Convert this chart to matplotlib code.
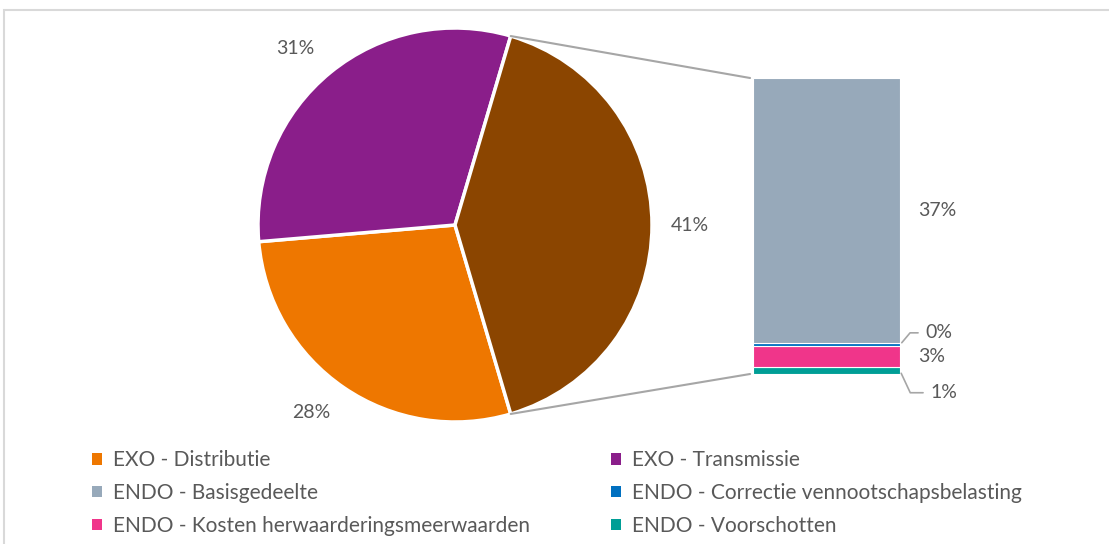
import matplotlib
matplotlib.use("Agg")
import matplotlib.pyplot as plt
from matplotlib.patches import ConnectionPatch, Rectangle, Patch
import numpy as np

plt.rcParams['font.family'] = ['Lato', 'DejaVu Sans']

# pie part (EXO) and the ENDO breakdown shown in the bar
pie_labels = ['EXO - Distributie', 'EXO - Transmissie']
pie_values = [28.2, 30.9]
pie_colors = ['#EE7700', '#8A1E8A']
other_color = '#8B4500'

bar_labels = ['ENDO - Basisgedeelte', 'ENDO - Correctie vennootschapsbelasting',
              'ENDO - Kosten herwaarderingsmeerwaarden', 'ENDO - Voorschotten']
bar_values = [36.6, 0.45, 2.9, 0.9]
bar_colors = ['#97A9BA', '#0070C0', '#F0358A', '#009E96']

text_color = '#595959'
W, H = 1109, 544

fig = plt.figure(figsize=(W / 100, H / 100), dpi=100)

# outer chart border (only top and left visible)
fig.patches.append(Rectangle((3.5 / W, -0.1), 1.2, (H - 9.5) / H + 0.1,
                             transform=fig.transFigure, fill=False,
                             edgecolor='#D9D9D9', linewidth=1.5))

# ---- pie ----
cx, cy, r = 455, 225, 197
ax_pie = fig.add_axes([(cx - r) / W, (H - cy - r) / H, 2 * r / W, 2 * r / H])
other = sum(bar_values)
values = pie_values + [other]
total = sum(values)
start = -other / total * 360 / 2
wedges, texts, autotexts = ax_pie.pie(
    values, colors=pie_colors + [other_color], startangle=start, counterclock=False,
    autopct=lambda p: f'{p:.0f}%', pctdistance=1.2,
    wedgeprops=dict(edgecolor='white', linewidth=2.5),
    textprops=dict(color=text_color, fontsize=14))
# nudge labels like Excel's best-fit placement
for wdg, t, shift, dist in zip(wedges, autotexts, [-3, 3, 0], [1.2, 1.21, 1.19]):
    a = np.radians((wdg.theta1 + wdg.theta2) / 2 + shift)
    t.set_position((dist * np.cos(a), dist * np.sin(a)))
ax_pie.set_xlim(-1, 1)
ax_pie.set_ylim(-1, 1)
ax_pie.set_aspect('equal')
ax_pie.axis('off')

# ---- bar ----
bx0, bx1, by0, by1 = 753, 900, 78, 374
ax_bar = fig.add_axes([bx0 / W, (H - by1) / H, (bx1 - bx0) / W, (by1 - by0) / H])
bottom = 0
mids = []
for val, col in zip(bar_values[::-1], bar_colors[::-1]):
    ax_bar.bar(0.5, val, width=1, bottom=bottom, color=col,
               edgecolor='white', linewidth=0.8)
    mids.append(bottom + val / 2)
    bottom += val
mids = mids[::-1]
ax_bar.set_xlim(0, 1)
ax_bar.set_ylim(0, other)
ax_bar.axis('off')

# labels on the bar
ax_bar.text(1.12, mids[0], f'{bar_values[0]:.0f}%', ha='left', va='center',
            color=text_color, fontsize=14)
ax_bar.text(1.12, mids[2], f'{bar_values[2]:.0f}%', ha='left', va='center',
            color=text_color, fontsize=14)
ax_bar.annotate(f'{bar_values[1]:.0f}%', xy=(1.0, mids[1]), xytext=(25, 12),
                textcoords='offset pixels', ha='left', va='center',
                color=text_color, fontsize=14,
                arrowprops=dict(arrowstyle='-', color='#A6A6A6', lw=1.2,
                                shrinkA=3, shrinkB=2,
                                connectionstyle='angle,angleA=0,angleB=50,rad=0'))
ax_bar.annotate(f'{bar_values[3]:.0f}%', xy=(1.0, mids[3]), xytext=(30, -22),
                textcoords='offset pixels', ha='left', va='center',
                color=text_color, fontsize=14,
                arrowprops=dict(arrowstyle='-', color='#A6A6A6', lw=1.2,
                                shrinkA=3, shrinkB=2,
                                connectionstyle='angle,angleA=0,angleB=-65,rad=0'))

# connector lines from the split wedge to the bar
w = wedges[-1]
for ang, yb in [(w.theta2, other), (w.theta1, 0)]:
    pt = (np.cos(np.radians(ang)), np.sin(np.radians(ang)))
    con = ConnectionPatch(xyA=(-0.02, yb), coordsA=ax_bar.transData,
                          xyB=pt, coordsB=ax_pie.transData,
                          color='#A6A6A6', linewidth=1.5)
    fig.add_artist(con)

# ---- legend ----
all_labels = pie_labels + bar_labels
all_colors = pie_colors + bar_colors
handles = [Patch(facecolor=c, edgecolor='none') for c in all_colors]
leg_kw = dict(frameon=False, handlelength=0.5, handleheight=0.5,
              handletextpad=0.5, labelspacing=0.62, fontsize=15,
              labelcolor=text_color, loc='upper left', borderaxespad=0, borderpad=0)
fig.legend(handles[0::2], all_labels[0::2], bbox_to_anchor=(92 / W, 1 - 450 / H), **leg_kw)
fig.legend(handles[1::2], all_labels[1::2], bbox_to_anchor=(611 / W, 1 - 450 / H), **leg_kw)

fig.savefig('out.png', dpi=100, facecolor='white')
